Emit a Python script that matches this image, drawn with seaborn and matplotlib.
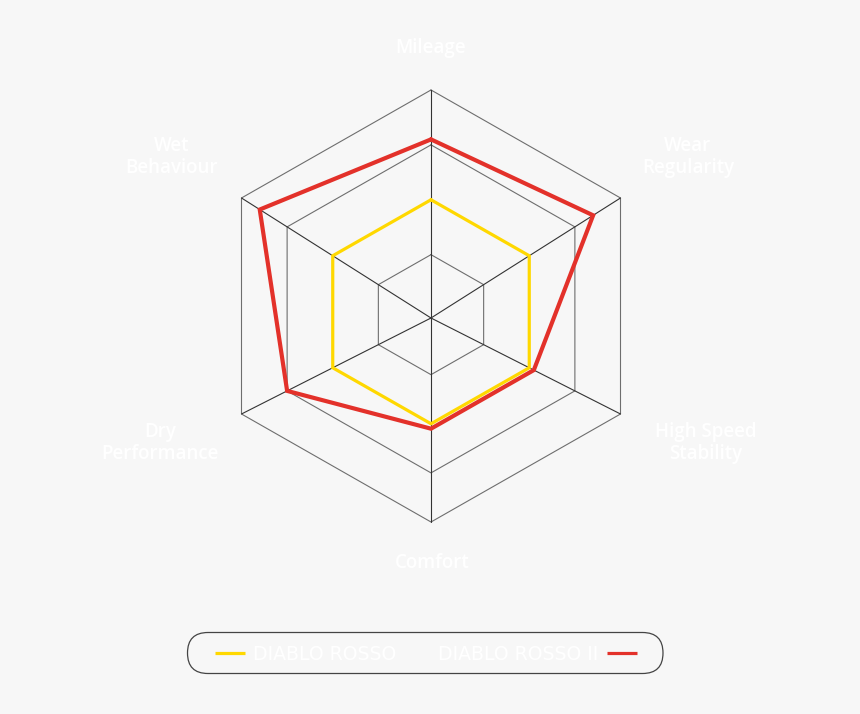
import numpy as np
import pandas as pd
import matplotlib
matplotlib.use("Agg")
import matplotlib.pyplot as plt
import seaborn as sns
from matplotlib.patches import FancyBboxPatch

# ---------------- data ----------------
categories = ["Mileage", "Wear\nRegularity", "High Speed\nStability",
              "Comfort", "Dry\nPerformance", "Wet\nBehaviour"]
series_names = ["DIABLO ROSSO", "DIABLO ROSSO II"]
diablo_rosso = [2.0, 2.0, 2.0, 2.0, 2.0, 2.0]
diablo_rosso_ii = [3.1, 3.4, 2.1, 2.1, 3.0, 3.6]
ring_levels = [1, 2, 3, 4]

# ---------------- style / layout ----------------
BG = "#f7f7f7"
YELLOW = "#ffd800"
RED = "#e3312a"
W, H = 860, 714
CX, CY = 431.0, 318.0      # centre of the web in pixels (from top-left)
PX = 52.0                  # pixels per value unit
R_MIN = -0.154             # value at the centre
TILT = 0.0556              # slight vertical perspective of the web
X_STRETCH = 1.013

sns.set_theme(style="white")
plt.rcParams["font.family"] = ["Open Sans", "DejaVu Sans"]

fig = plt.figure(figsize=(W / 100, H / 100), dpi=100, facecolor=BG)
ax = fig.add_axes([0, 0, 1, 1])
ax.set_facecolor(BG)

angles = np.deg2rad(np.arange(len(categories)) * 360.0 / len(categories))


def to_xy(values):
    r = np.asarray(values, dtype=float) - R_MIN
    x = r * np.sin(angles) * X_STRETCH
    y = r * np.cos(angles) + TILT * r
    return np.append(x, x[0]), np.append(y, y[0])


# grid rings
for lvl in ring_levels:
    gx, gy = to_xy([lvl] * len(categories))
    ax.plot(gx, gy, color="#6e6e6e", lw=0.8, zorder=1)

# spokes
ox, oy = to_xy([ring_levels[-1]] * len(categories))
for i in range(len(categories)):
    ax.plot([0, ox[i]], [0, oy[i]], color="#333333", lw=0.8, zorder=2)

# series
for name, vals, col, lw in [(series_names[0], diablo_rosso, YELLOW, 2.3),
                            (series_names[1], diablo_rosso_ii, RED, 3.0)]:
    sx, sy = to_xy(vals)
    df = pd.DataFrame({"x": sx, "y": sy, "series": name})
    sns.lineplot(data=df, x="x", y="y", sort=False, estimator=None,
                 color=col, lw=lw, ax=ax, zorder=3,
                 solid_joinstyle="miter")

ax.set_xlim(-CX / PX, (W - CX) / PX)
ax.set_ylim(-(H - CY) / PX, CY / PX)
ax.axis("off")

# overlay axes in pixel space for labels and legend
ov = fig.add_axes([0, 0, 1, 1])
ov.set_xlim(0, W)
ov.set_ylim(H, 0)
ov.axis("off")
ov.patch.set_alpha(0)

label_pos = [(431, 48), (688, 157), (706, 443), (432, 563), (160, 443), (172, 157)]
for lab, (lx, ly) in zip(categories, label_pos):
    ov.text(lx, ly, lab, color="white", fontsize=13.5, ha="center",
            va="center", linespacing=1.13, fontweight="semibold",
            family=["Open Sans", "DejaVu Sans"])

# legend
box = FancyBboxPatch((187.5, 632.5), 475.5, 41,
                     boxstyle="round,pad=0,rounding_size=20.5",
                     fc=BG, ec="#444444", lw=0.9, zorder=5)
ov.add_patch(box)
ov.plot([215, 245], [653, 653], color=YELLOW, lw=2.3, zorder=6,
        solid_capstyle="butt")
ov.plot([607, 637], [653, 653], color=RED, lw=2.3, zorder=6,
        solid_capstyle="butt")
ov.text(253, 654, series_names[0], color="white", fontsize=13.6,
        ha="left", va="center", family=["DejaVu Sans"], zorder=6)
ov.text(598, 654, series_names[1], color="white", fontsize=13.6,
        ha="right", va="center", family=["DejaVu Sans"], zorder=6)

fig.savefig("out.png", dpi=100, facecolor=BG)
